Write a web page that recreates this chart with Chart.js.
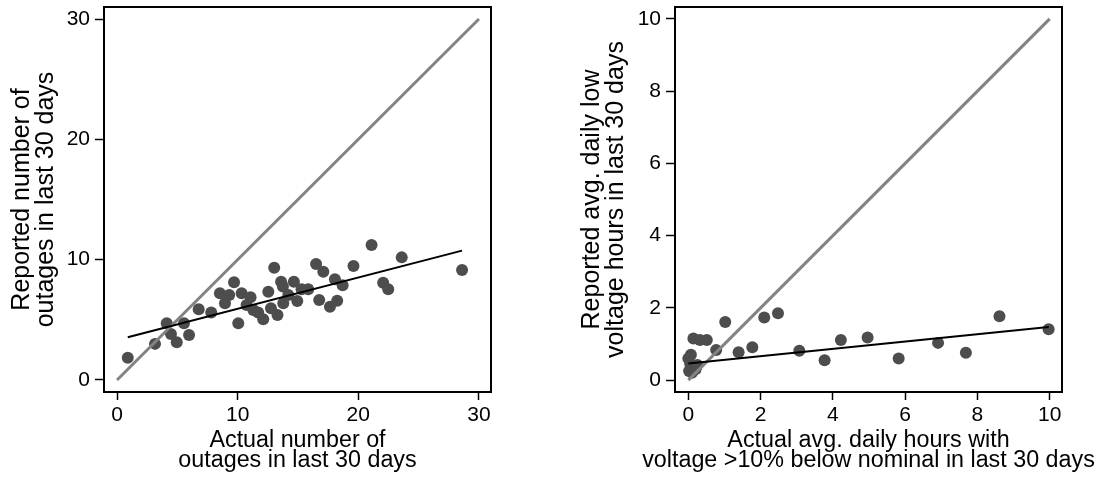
<!DOCTYPE html>
<html>
<head>
<meta charset="utf-8">
<script src="https://cdn.jsdelivr.net/npm/chart.js@4/dist/chart.umd.min.js"></script>
<style>
  body { margin: 0; background: #fff; width: 1103px; height: 480px; overflow: hidden; position: relative; }
  canvas { position: absolute; top: 0; }
  #left { left: 0; }
  #right { left: 551px; }
</style>
</head>
<body>
<canvas id="left" width="551" height="480"></canvas>
<canvas id="right" width="552" height="480"></canvas>
<script>
// left panel: outages
const outActual = [0.89, 3.15, 4.12, 4.47, 4.95, 5.55, 5.97, 6.77, 7.81, 8.53, 8.95, 9.3, 9.7, 10.05, 10.33,
  10.74, 11.07, 11.3, 11.7, 12.12, 12.54, 12.76, 13.03, 13.3, 13.6, 13.78, 13.75, 14.2, 14.66, 14.94,
  15.3, 15.85, 16.5, 16.76, 17.1, 17.65, 18.06, 18.25, 18.7, 19.6, 21.1, 22.06, 22.48, 23.6, 28.6];
const outReported = [1.85, 3.0, 4.71, 3.82, 3.13, 4.71, 3.74, 5.88, 5.6, 7.2, 6.37, 7.07, 8.12, 4.71, 7.2,
  6.23, 6.87, 5.82, 5.6, 5.04, 7.34, 5.96, 9.33, 5.4, 8.17, 6.37, 7.76, 7.07, 8.17, 6.57,
  7.54, 7.54, 9.64, 6.65, 9.0, 6.09, 8.37, 6.59, 7.87, 9.48, 11.22, 8.09, 7.54, 10.19, 9.14];
const outFitX = [0.89, 28.6];
const outFitY = [3.55, 10.75];
const outDiag = [0, 30];
const outTicks = [0, 10, 20, 30];

// right panel: low voltage hours
const lvActual = [0.07, 0.0, 0.05, 0.15, 0.25, 0.02, 0.1, 0.2, 0.14, 0.32, 0.51, 0.77, 1.02, 1.39, 1.77,
  2.1, 2.48, 3.07, 3.77, 4.22, 4.96, 5.82, 6.91, 7.68, 8.61, 9.97];
const lvReported = [0.7, 0.6, 0.45, 0.38, 0.42, 0.25, 0.2, 0.3, 1.15, 1.11, 1.11, 0.83, 1.61, 0.77, 0.91,
  1.73, 1.85, 0.81, 0.55, 1.11, 1.18, 0.6, 1.03, 0.76, 1.77, 1.41];
const lvFitX = [0, 9.97];
const lvFitY = [0.46, 1.47];
const lvDiag = [0, 10];
const lvTicks = [0, 2, 4, 6, 8, 10];

const FONT = '"Liberation Sans", Arial, sans-serif';
Chart.defaults.font.family = FONT;
Chart.defaults.color = '#000';

// box round the plot area
const frame = {
  id: 'frame',
  afterDraw(chart) {
    const { ctx, chartArea: a } = chart;
    ctx.save();
    ctx.strokeStyle = '#000';
    ctx.lineWidth = 2;
    ctx.strokeRect(a.left, a.top, a.right - a.left, a.bottom - a.top);
    ctx.restore();
  }
};

// x titles drawn by hand so the long line is not squeezed to the axis width
const xTitle = {
  id: 'xTitle',
  afterDraw(chart, args, opts) {
    const { ctx, chartArea: a } = chart;
    const cx = (a.left + a.right) / 2;
    ctx.save();
    ctx.font = '23.3px ' + FONT;
    ctx.fillStyle = '#000';
    ctx.textAlign = 'center';
    ctx.textBaseline = 'alphabetic';
    opts.lines.forEach((t, i) => ctx.fillText(t, cx, 447 + 20 * i));
    ctx.restore();
  }
};

function pts(xs, ys) {
  return xs.map((x, i) => ({ x: x, y: ys[i] }));
}

function makeChart(id, p) {
  return new Chart(document.getElementById(id), {
    type: 'scatter',
    data: {
      datasets: [
        { data: pts(p.fitX, p.fitY), showLine: true, borderColor: '#000', borderWidth: 2, pointRadius: 0 },
        { data: pts(p.diag, p.diag), showLine: true, borderColor: '#838383', borderWidth: 3, pointRadius: 0 },
        { data: pts(p.xs, p.ys), backgroundColor: '#4d4d4d', borderWidth: 0, pointRadius: 6 }
      ]
    },
    options: {
      responsive: false,
      animation: false,
      events: [],
      layout: { autoPadding: false, padding: { top: 7, right: p.padRight, left: 0, bottom: 0 } },
      plugins: {
        legend: { display: false },
        tooltip: { enabled: false },
        xTitle: { lines: p.xTitle }
      },
      scales: {
        x: {
          type: 'linear', min: p.xMin, max: p.xMax,
          afterBuildTicks: s => { s.ticks = p.ticks.map(v => ({ value: v })); },
          afterFit: s => { s.height = 88; s.paddingLeft = 0; s.paddingRight = 0; },
          grid: { drawOnChartArea: false, tickLength: 8, tickColor: '#000', tickWidth: 1.5 },
          border: { color: '#000', width: 2 },
          ticks: { font: { size: 21 }, padding: 3, maxRotation: 0, autoSkip: false },
          title: { display: false }
        },
        y: {
          type: 'linear', min: p.yMin, max: p.yMax,
          afterBuildTicks: s => { s.ticks = p.ticks.map(v => ({ value: v })); },
          afterFit: s => { s.width = p.yWidth; s.paddingTop = 0; s.paddingBottom = 0; },
          grid: { drawOnChartArea: false, tickLength: 9, tickColor: '#000', tickWidth: 1.5 },
          border: { color: '#000', width: 2 },
          ticks: { font: { size: 21 }, padding: 5, autoSkip: false },
          title: { display: true, text: p.yTitle, font: { size: 25, lineHeight: '24px' }, padding: { top: p.yTitlePad, bottom: 0 } }
        }
      }
    },
    plugins: [frame, xTitle]
  });
}

makeChart('left', {
  xs: outActual, ys: outReported, fitX: outFitX, fitY: outFitY, diag: outDiag, ticks: outTicks,
  xMin: -1.08, xMax: 31.0, yMin: -1.0, yMax: 31.0, padRight: 60, yWidth: 104, yTitlePad: 10,
  xTitle: ['Actual number of', 'outages in last 30 days'],
  yTitle: ['Reported number of', 'outages in last 30 days']
});

makeChart('right', {
  xs: lvActual, ys: lvReported, fitX: lvFitX, fitY: lvFitY, diag: lvDiag, ticks: lvTicks,
  xMin: -0.37, xMax: 10.34, yMin: -0.33, yMax: 10.33, padRight: 41, yWidth: 124, yTitlePad: 29,
  xTitle: ['Actual avg. daily hours with', 'voltage >10% below nominal in last 30 days'],
  yTitle: ['Reported avg. daily low', 'voltage hours in last 30 days']
});
</script>
</body>
</html>
